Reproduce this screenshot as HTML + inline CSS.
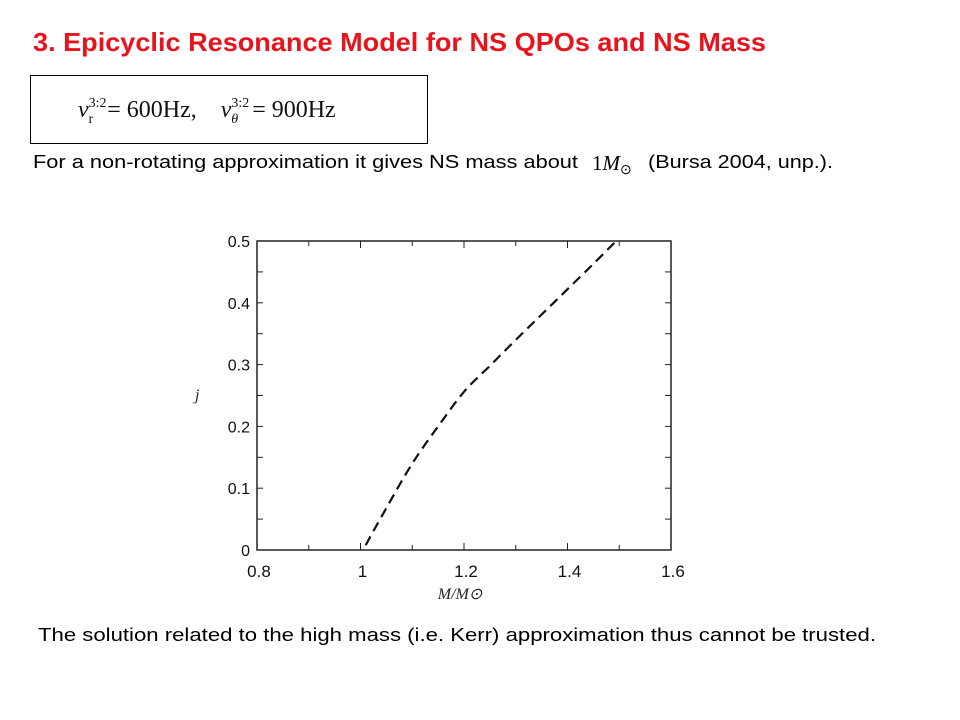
<!DOCTYPE html>
<html><head><meta charset="utf-8"><style>
html,body{margin:0;padding:0;background:#fff;}
svg{display:block;}
</style></head><body>
<svg id="slide" width="960" height="720" xmlns="http://www.w3.org/2000/svg">
<text x="33" y="51" font-family="Liberation Sans, sans-serif" font-weight="bold" font-size="26" fill="#e8141c" textLength="733" lengthAdjust="spacingAndGlyphs">3. Epicyclic Resonance Model for NS QPOs and NS Mass</text>
<rect x="30.5" y="75.5" width="397" height="68" fill="none" stroke="#000" stroke-width="1"/>
<text x="78" y="117" font-family="Liberation Serif, serif" font-size="24" fill="#111"><tspan font-style="italic">ν</tspan><tspan dy="-10" font-size="14">3:2</tspan><tspan dx="-18" dy="16" font-size="14">r</tspan><tspan dx="14" dy="-6">= 600Hz,</tspan><tspan dx="24" font-style="italic">ν</tspan><tspan dy="-10" font-size="14">3:2</tspan><tspan dx="-18" dy="16" font-size="14" font-style="italic">θ</tspan><tspan dx="14" dy="-6">= 900Hz</tspan></text>
<text x="33" y="168" font-family="Liberation Sans, sans-serif" font-size="18" fill="#000" textLength="545" lengthAdjust="spacingAndGlyphs">For a non-rotating approximation it gives NS mass about</text>
<text x="592" y="170" font-family="Liberation Serif, serif" font-size="21" fill="#000">1<tspan font-style="italic">M</tspan><tspan font-size="14" dy="4">⊙</tspan></text>
<text x="648" y="168" font-family="Liberation Sans, sans-serif" font-size="18" fill="#000" textLength="185" lengthAdjust="spacingAndGlyphs">(Bursa 2004, unp.).</text>
<g id="chart"></g>
<text x="38" y="641" font-family="Liberation Sans, sans-serif" font-size="18" fill="#000" textLength="838" lengthAdjust="spacingAndGlyphs">The solution related to the high mass (i.e. Kerr) approximation thus cannot be trusted.</text>
</svg>
<script>
const xTicks=[0.8,1,1.2,1.4,1.6];
const xTickLabels=["0.8","1","1.2","1.4","1.6"];
const yTicks=[0,0.1,0.2,0.3,0.4,0.5];
const yTickLabels=["0","0.1","0.2","0.3","0.4","0.5"];
const massValues=[1.01,1.05,1.1,1.15,1.2,1.25,1.3,1.35,1.4,1.45,1.494];
const jValues=[0.008,0.068,0.14,0.2,0.256,0.298,0.34,0.381,0.422,0.463,0.5];
const L=257,R=671,T=241,B=550;
const sx=v=>L+(v-0.8)/0.8*(R-L);
const sy=v=>B-(v/0.5)*(B-T);
const NS="http://www.w3.org/2000/svg";
const g=document.getElementById('chart');
function mk(tag,attrs){const e=document.createElementNS(NS,tag);for(const k in attrs)e.setAttribute(k,attrs[k]);g.appendChild(e);return e;}
const frame=mk('rect',{x:L,y:T,width:R-L,height:B-T,fill:'none',stroke:'#222','stroke-width':1.5});


for(let v=0.8;v<=1.6001;v+=0.1){const x=sx(v);const major=Math.abs(Math.round(v*10)%2)===0;const len=major?7:5;
 const t1=mk('line',{x1:x,y1:B,x2:x,y2:B-len,stroke:'#222','stroke-width':1});
 
 
 const t2=mk('line',{x1:x,y1:T,x2:x,y2:T+len,stroke:'#222','stroke-width':1});
 
 }
for(let v=0;v<=0.5001;v+=0.05){const y=sy(v);const len=6;
 const t1=mk('line',{x1:L,y1:y,x2:L+len,y2:y,stroke:'#222','stroke-width':1});
 
 
 const t2=mk('line',{x1:R,y1:y,x2:R-len,y2:y,stroke:'#222','stroke-width':1});
 
 }
xTicks.forEach((v,i)=>{const t=mk('text',{x:sx(v)+2,y:B+27,'text-anchor':'middle','font-family':'Liberation Sans, sans-serif','font-size':17,fill:'#111'});t.textContent=xTickLabels[i];
 
 });
yTicks.forEach((v,i)=>{const t=mk('text',{x:L-7,y:sy(v)+6,'text-anchor':'end','font-family':'Liberation Sans, sans-serif','font-size':16,fill:'#111'});t.textContent=yTickLabels[i];
 
 });
const xt=mk('text',{x:460,y:599,'text-anchor':'middle','font-family':'Liberation Serif, serif','font-style':'italic','font-size':16,fill:'#222'});xt.textContent='M/M⊙';


const yt=mk('text',{x:195,y:400,'font-family':'Liberation Serif, serif','font-style':'italic','font-size':16,fill:'#222'});yt.textContent='j';


const P=massValues.map((m,i)=>[sx(m),sy(jValues[i])]);
let d='M'+P[0][0].toFixed(1)+' '+P[0][1].toFixed(1);
for(let i=0;i<P.length-1;i++){const p0=P[i-1]||P[i],p1=P[i],p2=P[i+1],p3=P[i+2]||P[i+1];
 const c1=[p1[0]+(p2[0]-p0[0])/6,p1[1]+(p2[1]-p0[1])/6],c2=[p2[0]-(p3[0]-p1[0])/6,p2[1]-(p3[1]-p1[1])/6];
 d+=' C'+c1[0].toFixed(1)+' '+c1[1].toFixed(1)+' '+c2[0].toFixed(1)+' '+c2[1].toFixed(1)+' '+p2[0].toFixed(1)+' '+p2[1].toFixed(1);}
const line=mk('path',{d:d,fill:'none',stroke:'#111','stroke-width':2.2,'stroke-dasharray':'10,6'});


</script>
</body></html>
